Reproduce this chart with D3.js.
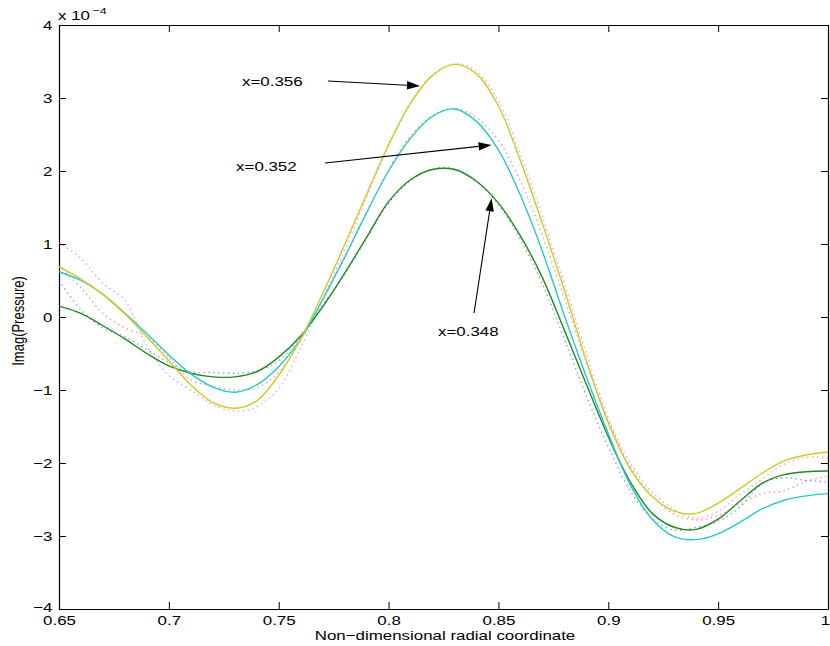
<!DOCTYPE html>
<html>
<head>
<meta charset="utf-8">
<script src="https://cdn.jsdelivr.net/npm/d3@7"></script>
<style>
  html, body { margin: 0; padding: 0; background: #fff; }
  svg { display: block; font-family: "Liberation Sans", Arial, Helvetica, sans-serif; }
</style>
</head>
<body>
<svg id="chart" width="830" height="646"></svg>
<script>
// ---------- data ----------
const xs = [0.65,0.66,0.67,0.68,0.69,0.70,0.71,0.72,0.73,0.74,0.75,0.76,0.77,0.78,0.79,0.80,0.81,0.82,0.83,0.84,0.85,0.86,0.87,0.88,0.89,0.90,0.91,0.92,0.93,0.94,0.95,0.96,0.97,0.98,0.99,1.00];

// solid curves (units of 1e-4)
const solid356 = [0.69,0.52,0.31,0.04,-0.27,-0.60,-0.93,-1.17,-1.25,-1.15,-0.80,-0.30,0.32,0.99,1.68,2.36,2.93,3.31,3.46,3.33,2.89,2.14,1.28,0.37,-0.60,-1.45,-2.08,-2.46,-2.66,-2.69,-2.55,-2.35,-2.14,-1.97,-1.89,-1.85];
const solid352 = [0.62,0.50,0.31,0.05,-0.23,-0.52,-0.78,-0.96,-1.03,-0.93,-0.68,-0.30,0.24,0.82,1.43,2.00,2.45,2.75,2.85,2.68,2.29,1.67,0.90,0.02,-0.82,-1.60,-2.30,-2.77,-3.01,-3.05,-2.97,-2.81,-2.63,-2.51,-2.45,-2.42];
const solid348 = [0.15,0.05,-0.12,-0.30,-0.50,-0.67,-0.77,-0.82,-0.82,-0.75,-0.55,-0.26,0.14,0.60,1.09,1.58,1.88,2.02,2.02,1.86,1.56,1.11,0.54,-0.18,-0.92,-1.64,-2.26,-2.69,-2.88,-2.91,-2.77,-2.52,-2.28,-2.16,-2.12,-2.11];

// dotted curves (units of 1e-4)
const dotted356 = [1.02,0.80,0.46,0.23,-0.40,-0.80,-1.00,-1.20,-1.29,-1.23,-0.98,-0.42,0.24,0.92,1.64,2.34,2.92,3.31,3.47,3.37,2.96,2.23,1.38,0.46,-0.50,-1.38,-2.00,-2.40,-2.64,-2.76,-2.66,-2.43,-2.22,-2.02,-1.92,-1.93];
const dotted352 = [0.70,0.40,0.05,-0.15,-0.27,-0.55,-0.86,-0.95,-1.00,-0.97,-0.76,-0.32,0.24,0.80,1.42,2.02,2.48,2.76,2.86,2.73,2.42,1.86,1.12,0.26,-0.62,-1.42,-2.05,-2.45,-2.70,-2.78,-2.72,-2.56,-2.42,-2.38,-2.25,-2.18];
const dotted348 = [0.50,0.10,-0.15,-0.27,-0.45,-0.62,-0.75,-0.76,-0.77,-0.74,-0.60,-0.27,0.16,0.58,1.08,1.56,1.87,2.03,2.03,1.86,1.54,1.06,0.45,-0.30,-1.08,-1.78,-2.38,-2.76,-2.92,-2.88,-2.80,-2.60,-2.28,-2.20,-2.24,-2.26];

const xTicks = [0.65,0.70,0.75,0.80,0.85,0.90,0.95,1.00];
const xTickLabels = ["0.65","0.7","0.75","0.8","0.85","0.9","0.95","1"];
const yTicks = [-4,-3,-2,-1,0,1,2,3,4];
const yTickLabels = ["\u22124","\u22123","\u22122","\u22121","0","1","2","3","4"];

const labels = ["x=0.356","x=0.352","x=0.348"];
const labelX = [0.7333,0.7306,0.8225];
const labelY = [3.16,2.00,-0.264];
const arrowFromX = [0.7724,0.7711,0.8389];
const arrowFromY = [3.233,2.11,0.055];
const arrowToX = [0.8143,0.8469,0.8469];
const arrowToY = [3.164,2.356,1.626];

const xLabel = "Non\u2212dimensional radial coordinate";
const yLabel = "Imag(Pressure)";
const expBase = "x 10";
const expPow = "\u22124";

// ---------- drawing ----------
const svg = d3.select("#chart");
const L = 59, R = 828, T = 25, B = 609;
const x = d3.scaleLinear().domain([0.65, 1.0]).range([L, R]);
const y = d3.scaleLinear().domain([-4, 4]).range([B, T]);

const FONT = 13;
const SX = 1.3; // horizontal stretch of the reference's text

function stretch(sel) {
  sel.each(function () {
    const t = d3.select(this);
    const tx = +t.attr("x") || 0, ty = +t.attr("y") || 0;
    t.attr("x", 0).attr("y", 0).attr("transform", `translate(${tx},${ty}) scale(${SX},1)`);
  });
}

// axes
const axB = d3.axisBottom(x).tickValues(xTicks).tickFormat((d,i)=>xTickLabels[i]).tickSizeInner(-7).tickSizeOuter(0).tickPadding(6.5);
const axT = d3.axisTop(x).tickValues(xTicks).tickFormat("").tickSizeInner(-7).tickSizeOuter(0);
const axL = d3.axisLeft(y).tickValues(yTicks).tickFormat((d,i)=>yTickLabels[i]).tickSizeInner(-7).tickSizeOuter(0).tickPadding(6.5);
const axR = d3.axisRight(y).tickValues(yTicks).tickFormat("").tickSizeInner(-7).tickSizeOuter(0);

function styleAxis(g) {
  g.selectAll("path.domain").attr("stroke", "#000").attr("stroke-width", 1.2);
  g.selectAll(".tick line").attr("stroke", "#000").attr("stroke-width", 1);
  g.selectAll(".tick text").attr("fill", "#000").style("font-size", FONT + "px")
    .style("font-family", '"Liberation Sans", Arial, Helvetica, sans-serif');
}
const gB = svg.append("g").attr("transform", `translate(0,${B})`).call(axB).call(styleAxis);
svg.append("g").attr("transform", `translate(0,${T})`).call(axT).call(styleAxis);
const gL = svg.append("g").attr("transform", `translate(${L},0)`).call(axL).call(styleAxis);
svg.append("g").attr("transform", `translate(${R},0)`).call(axR).call(styleAxis);

// last x label sits at the right edge in the reference; nudge it inside
gB.selectAll(".tick text").filter((d, i) => i === xTicks.length - 1).attr("x", -3);
// bottom y label sits just above the corner
gL.selectAll(".tick text").filter((d, i) => i === 0).attr("y", -2);
stretch(gB.selectAll(".tick text"));
stretch(gL.selectAll(".tick text"));

// exponent label
svg.append("text").attr("x", 58).attr("y", 20).attr("fill", "#000")
  .style("font-size", FONT + "px").text(expBase).call(stretch);
svg.append("text").attr("x", 92.5).attr("y", 14).attr("fill", "#000")
  .style("font-size", "9.5px").text(expPow).call(stretch);

// axis labels
svg.append("text").attr("x", 445).attr("y", 639.5).attr("text-anchor", "middle")
  .attr("fill", "#000").style("font-size", FONT + "px").text(xLabel).call(stretch);
svg.append("text").attr("transform", `translate(23.5,321) scale(${SX},1) rotate(-90)`).attr("text-anchor", "middle")
  .attr("fill", "#000").style("font-size", FONT + "px").text(yLabel);

// lines
const line = d3.line().x((d, i) => x(xs[i])).y(d => y(d)).curve(d3.curveCatmullRom.alpha(0.5));

const dotted = [
  {v: dotted356, c: "#e040e8"},
  {v: dotted352, c: "#ff3030"},
  {v: dotted348, c: "#3030ff"}
];
dotted.forEach(s => {
  svg.append("path").attr("d", line(s.v)).attr("fill", "none")
    .attr("stroke", s.c).attr("stroke-opacity", 0.6).attr("stroke-width", 1.3)
    .attr("stroke-dasharray", "1.3,3.6");
});

const solids = [
  {v: solid348, c: "#1e8c1e"},
  {v: solid352, c: "#26caca"},
  {v: solid356, c: "#cccc22"}
];
solids.forEach(s => {
  svg.append("path").attr("d", line(s.v)).attr("fill", "none")
    .attr("stroke", s.c).attr("stroke-width", 1.4);
});

// annotations
labels.forEach((t, i) => {
  svg.append("text").attr("x", x(labelX[i])).attr("y", y(labelY[i])).attr("fill", "#000")
    .style("font-size", FONT + "px").text(t).call(stretch);
  const x1 = x(arrowFromX[i]), y1 = y(arrowFromY[i]);
  const x2 = x(arrowToX[i]), y2 = y(arrowToY[i]);
  const ang = Math.atan2(y2 - y1, x2 - x1);
  const len = 13, hw = 4.2;
  const bx = x2 - len * Math.cos(ang), by = y2 - len * Math.sin(ang);
  svg.append("line").attr("x1", x1).attr("y1", y1).attr("x2", bx).attr("y2", by)
    .attr("stroke", "#000").attr("stroke-width", 1.1);
  const p = [
    [x2, y2],
    [bx + hw * Math.sin(ang), by - hw * Math.cos(ang)],
    [bx - hw * Math.sin(ang), by + hw * Math.cos(ang)]
  ];
  svg.append("polygon").attr("points", p.map(q => q.join(",")).join(" ")).attr("fill", "#000");
});
</script>
</body>
</html>
